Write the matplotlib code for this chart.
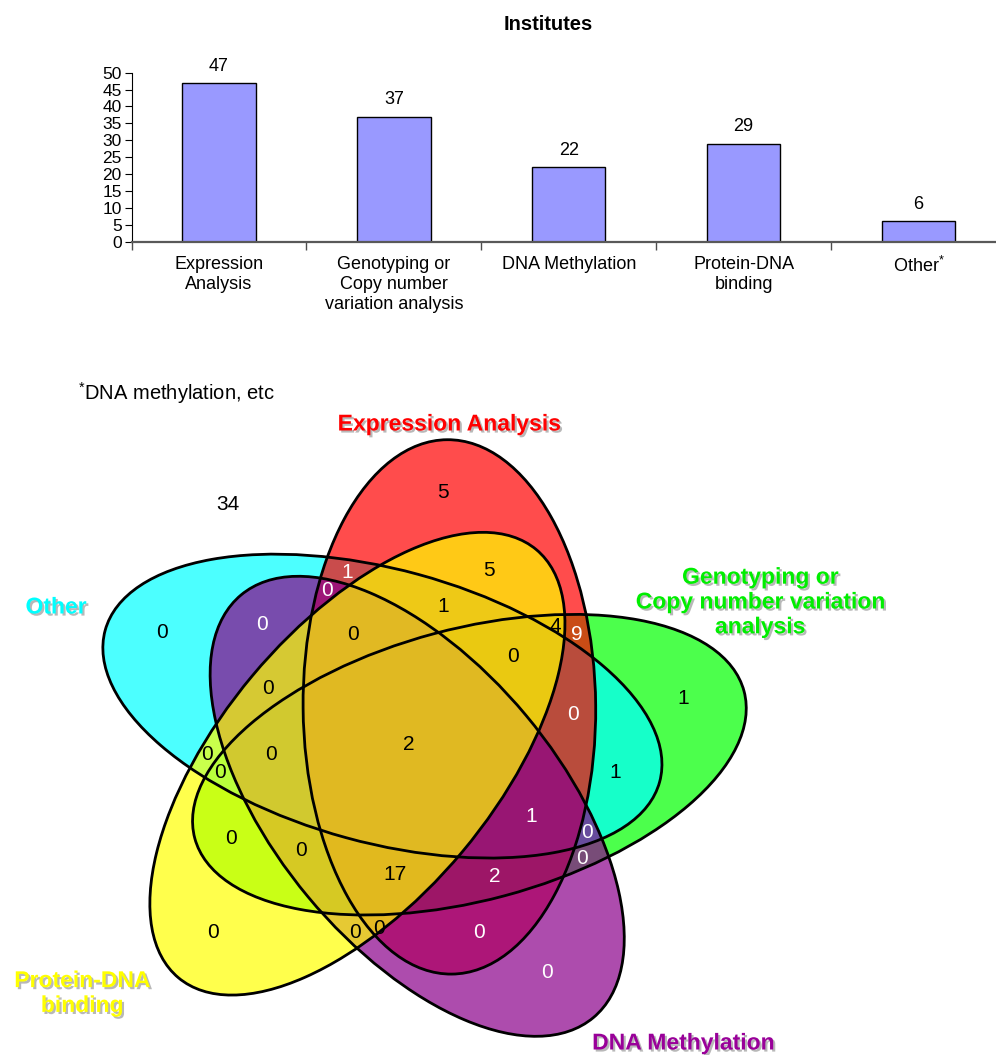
import numpy as np
import matplotlib
matplotlib.use("Agg")
import matplotlib.pyplot as plt
from matplotlib.patches import Ellipse
import matplotlib.patheffects as pe

plt.rcParams['font.family'] = ['Liberation Sans', 'DejaVu Sans']
plt.rcParams['mathtext.fontset'] = 'custom'
plt.rcParams['mathtext.rm'] = 'Liberation Sans'

# bar chart data
categories = ["Expression\nAnalysis", "Genotyping or\nCopy number\nvariation analysis",
              "DNA Methylation", "Protein-DNA\nbinding", "Other$^{*}$"]
institutes = [47, 37, 22, 29, 6]
yticks = [0, 5, 10, 15, 20, 25, 30, 35, 40, 45, 50]

# venn sets (drawing order) : name, colour, label colour
set_names = ["Genotyping or\nCopy number variation\nanalysis", "Other",
             "Expression Analysis", "DNA Methylation", "Protein-DNA\nbinding"]
set_colors = ["#00ff00", "#00ffff", "#ff0000", "#8b008b", "#ffff00"]
label_colors = ["#00ee00", "#00ffff", "#ff0000", "#990099", "#ffff00"]
# region counts
region_counts = [34, 5, 5, 1, 0, 0, 0, 1, 0, 4, 9, 0, 0, 0, 1, 2, 0, 0, 0, 1,
                 1, 0, 0, 0, 0, 17, 2, 0, 0, 0, 0, 0]

# ---- layout (pixels) ----
ell = [  # cx, cy, a, b, angle
    (469.4, 764.7, 284.3, 135.7, 165.0),
    (382.4, 706.1, 287.4, 136.5, -164.7),
    (449.4, 706.9, 267.2, 146.3, -90.5),
    (417.2, 806.3, 275.1, 141.8, -129.8),
    (357.4, 763.7, 279.0, 137.0, -50.1),
]
label_pos = [(760, 602), (56, 607), (449, 424), (683, 1043), (82, 993)]
count_pos = [(228, 505), (443, 492), (489, 571), (347, 573), (327, 590), (162, 632),
             (262, 624), (443, 607), (353, 635), (555, 627), (577, 634), (513, 657),
             (268, 688), (573, 715), (683, 698), (409, 745), (207, 754), (220, 773),
             (271, 754), (615, 772), (531, 817), (587, 832), (231, 838), (301, 851),
             (582, 858), (395, 874), (495, 877), (213, 933), (355, 932), (379, 928),
             (479, 932), (547, 972)]
white = {3, 4, 6, 10, 13, 20, 21, 24, 26, 30, 31}

W, H = 996, 1055
fig = plt.figure(figsize=(W / 100, H / 100), dpi=100)

# ---- venn diagram ----
ax2 = fig.add_axes([0, 0, 1, 1])
ax2.set_xlim(0, W)
ax2.set_ylim(H, 0)
ax2.axis('off')
for (cx, cy, a, b, ang), col in zip(ell, set_colors):
    ax2.add_patch(Ellipse((cx, cy), 2 * a, 2 * b, angle=ang, fc=col, ec='none', alpha=0.7))
for (cx, cy, a, b, ang) in ell:
    ax2.add_patch(Ellipse((cx, cy), 2 * a, 2 * b, angle=ang, fill=False, ec='black', lw=2))

for i, (n, (x, y)) in enumerate(zip(region_counts, count_pos)):
    ax2.text(x, y, str(n), fontsize=15, ha='center', va='center',
             color='white' if i in white else 'black')

shadow = [pe.SimplePatchShadow(offset=(1.5, -1.5), shadow_rgbFace='0.45', alpha=0.5), pe.Normal()]
for name, col, (x, y) in zip(set_names, label_colors, label_pos):
    ax2.text(x, y, name, fontsize=16.5, fontweight='bold', color=col, ha='center',
             va='center', linespacing=1.1, path_effects=shadow)

ax2.text(78, 393, "$^{*}$DNA methylation, etc", fontsize=14.5, ha='left', va='center')
ax2.text(548, 25, "Institutes", fontsize=14.5, fontweight='bold', ha='center', va='center')

# ---- bar chart ----
left, right = 131.5, 1006
top, bottom = 72.7, 241.7
ax = fig.add_axes([left / W, 1 - bottom / H, (right - left) / W, (bottom - top) / H])
ax.patch.set_alpha(0)
x = np.arange(len(categories))
ax.bar(x, institutes, width=0.42, color='#9999ff', edgecolor='black', linewidth=1)
for xi, v in zip(x, institutes):
    ax.annotate(str(v), (xi, v), xytext=(0, 6), textcoords='offset points',
                ha='center', va='bottom', fontsize=13)
ax.set_xlim(-0.5, 4.5)
ax.set_ylim(0, 50)
ax.set_yticks(yticks)
ax.tick_params(axis='y', labelsize=12.5, length=5, pad=2)
ax.set_xticks(x)
ax.set_xticklabels(categories, fontsize=13, linespacing=1.25)
ax.set_xticks(np.arange(-0.5, 4.6, 1), minor=True)
ax.tick_params(axis='x', which='major', length=0, pad=10)
ax.tick_params(axis='x', which='minor', length=6, width=1, color='0.3')
ax.spines['top'].set_visible(False)
ax.spines['right'].set_visible(False)
ax.spines['bottom'].set_color('0.35')
ax.spines['bottom'].set_linewidth(1.6)

fig.savefig("out.png", dpi=100)
